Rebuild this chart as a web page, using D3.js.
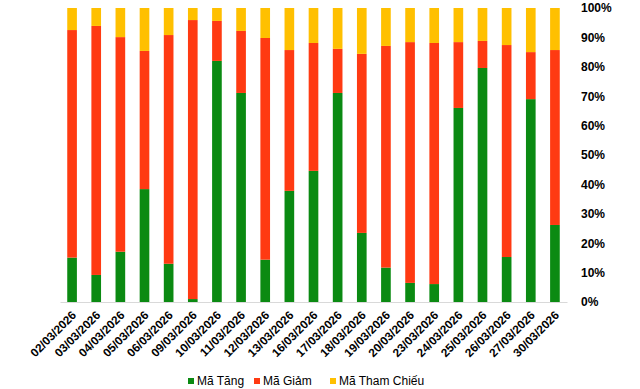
<!DOCTYPE html>
<html>
<head>
<meta charset="utf-8">
<script src="https://cdn.jsdelivr.net/npm/d3@7"></script>
<style>
  body { margin: 0; background: #fff; }
  svg { display: block; font-family: Arial, "Liberation Sans", sans-serif; }
</style>
</head>
<body>
<div id="chart"></div>
<script>
// Data (percent of stocks per session)
const dates = ["02/03/2026", "03/03/2026", "04/03/2026", "05/03/2026", "06/03/2026", "09/03/2026",
  "10/03/2026", "11/03/2026", "12/03/2026", "13/03/2026", "16/03/2026", "17/03/2026", "18/03/2026",
  "19/03/2026", "20/03/2026", "23/03/2026", "24/03/2026", "25/03/2026", "26/03/2026", "27/03/2026", "30/03/2026"];
const maTang = [15.1, 9.2, 17.1, 38.4, 13.0, 1.0, 82.0, 71.1, 14.4, 37.8, 44.6,
  71.1, 23.5, 11.7, 6.5, 6.1, 66.0, 79.6, 15.3, 69.0, 26.2];
const maGiam = [77.4, 84.7, 73.0, 47.0, 77.8, 94.9, 13.6, 21.1, 75.4, 47.9, 43.5,
  15.0, 60.9, 75.4, 81.9, 82.0, 22.4, 9.2, 72.1, 16.0, 59.5];
const maThamChieu = [7.5, 6.1, 9.9, 14.6, 9.2, 4.1, 4.4, 7.8, 10.2, 14.3, 11.9,
  13.9, 15.6, 12.9, 11.6, 11.9, 11.6, 11.2, 12.6, 15.0, 14.3];
const seriesNames = ["Mã Tăng", "Mã Giảm", "Mã Tham Chiếu"];
const seriesColors = ["#0b8a12", "#ff3a12", "#ffc000"];
const yTicks = [0, 10, 20, 30, 40, 50, 60, 70, 80, 90, 100];

const viewW = 640, viewH = 389;
const margin = { top: 8, right: 73, bottom: 87, left: 60 };
const width = viewW - margin.left - margin.right;
const height = viewH - margin.top - margin.bottom;

const rows = dates.map((d, i) => ({
  date: d, "Mã Tăng": maTang[i], "Mã Giảm": maGiam[i], "Mã Tham Chiếu": maThamChieu[i]
}));
const stacked = d3.stack().keys(seriesNames).offset(d3.stackOffsetExpand)(rows);

const svg = d3.select("#chart").append("svg")
  .attr("width", viewW).attr("height", viewH)
  .append("g")
  .attr("transform", `translate(${margin.left},${margin.top})`);

const x = d3.scaleBand().domain(dates).range([0, width]).paddingInner(0.6).paddingOuter(0.3);
const y = d3.scaleLinear().domain([0, 1]).range([height, 0]);
const color = d3.scaleOrdinal().domain(seriesNames).range(seriesColors);

// Bars
svg.selectAll("g.layer")
  .data(stacked)
  .join("g")
  .attr("class", "layer")
  .attr("fill", d => color(d.key))
  .selectAll("rect")
  .data(d => d)
  .join("rect")
  .attr("x", d => x(d.data.date))
  .attr("y", d => y(d[1]))
  .attr("width", x.bandwidth())
  .attr("height", d => y(d[0]) - y(d[1]));

// X axis
const xAxis = svg.append("g")
  .attr("transform", `translate(0,${height})`)
  .call(d3.axisBottom(x).tickSize(0).tickPadding(0));
xAxis.select(".domain").attr("stroke", "#d9d9d9").attr("stroke-width", 1);
xAxis.selectAll("text")
  .attr("transform", "translate(2,11) rotate(-45)")
  .attr("dy", "0.35em")
  .style("text-anchor", "end")
  .style("font-size", "11.8px")
  .style("font-weight", "bold")
  .attr("fill", "#000");

// Y axis (right)
const yAxis = svg.append("g")
  .attr("transform", `translate(${width + 11},0)`)
  .call(d3.axisRight(y).tickValues(yTicks.map(t => t / 100)).tickFormat(d => Math.round(d * 100) + "%").tickSize(0));
yAxis.select(".domain").remove();
yAxis.selectAll("text")
  .style("font-size", "12px")
  .style("font-weight", "bold")
  .attr("fill", "#000");

// Legend
const legend = svg.append("g").attr("transform", `translate(0,${height + 79})`);
const legendX = [128, 194, 270];
seriesNames.forEach((name, i) => {
  const g = legend.append("g").attr("transform", `translate(${legendX[i]},0)`);
  g.append("rect").attr("x", 0).attr("y", -3).attr("width", 6).attr("height", 6).attr("fill", color(name));
  g.append("text").attr("x", 9).attr("y", 0).attr("dy", "0.35em")
    .style("font-size", "12px").attr("fill", "#000").text(name);
});
</script>
</body>
</html>
